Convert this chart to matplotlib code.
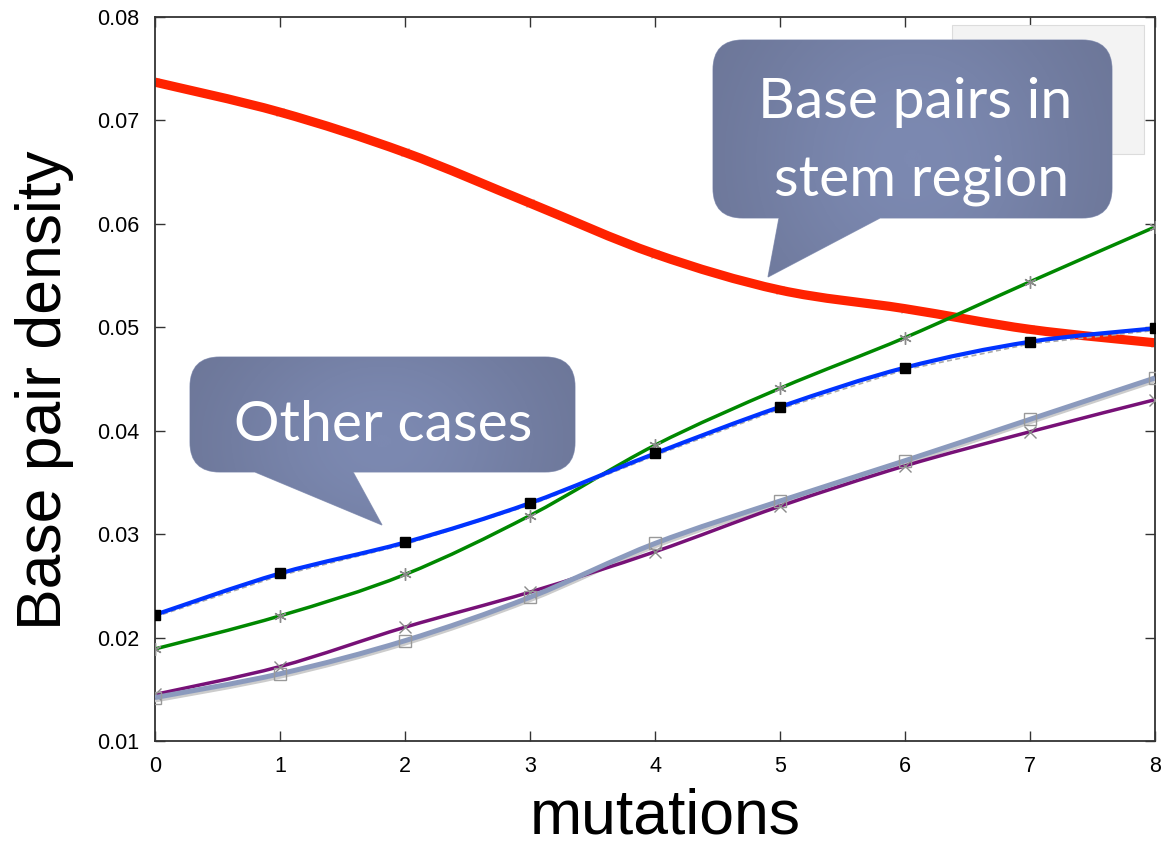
import matplotlib
matplotlib.use("Agg")
import matplotlib.pyplot as plt
import numpy as np
from matplotlib.colors import LinearSegmentedColormap
from matplotlib.patches import PathPatch, Rectangle
from matplotlib.path import Path
from matplotlib import transforms

# data
mutations = [0, 1, 2, 3, 4, 5, 6, 7, 8]
stem = [0.0737, 0.0708, 0.0669, 0.0620, 0.0571, 0.0536, 0.0518, 0.0498, 0.0485]
blue_case = [0.0222, 0.0262, 0.0292, 0.0330, 0.0378, 0.0423, 0.0461, 0.0486, 0.0499]
green_case = [0.0189, 0.0221, 0.0261, 0.0318, 0.0386, 0.0441, 0.0490, 0.0544, 0.0597]
purple_case = [0.0145, 0.0172, 0.0210, 0.0244, 0.0283, 0.0327, 0.0366, 0.0399, 0.0430]
grey_case = [0.0142, 0.0165, 0.0197, 0.0239, 0.0291, 0.0332, 0.0371, 0.0411, 0.0451]

yticks = [0.01, 0.02, 0.03, 0.04, 0.05, 0.06, 0.07, 0.08]

TICK_FONT = "Liberation Sans"
CALLOUT_FONT = "Lato"


def smooth_path(xs, ys):
    # Catmull-Rom through the points, handed to matplotlib as cubic Beziers
    n = len(xs)
    verts = [(xs[0], ys[0])]
    codes = [Path.MOVETO]
    for i in range(n - 1):
        a = max(i - 1, 0)
        b = min(i + 2, n - 1)
        c1 = (xs[i] + (xs[i + 1] - xs[a]) / 6, ys[i] + (ys[i + 1] - ys[a]) / 6)
        c2 = (xs[i + 1] - (xs[b] - xs[i]) / 6, ys[i + 1] - (ys[b] - ys[i]) / 6)
        verts += [c1, c2, (xs[i + 1], ys[i + 1])]
        codes += [Path.CURVE4] * 3
    return Path(verts, codes)


def curve(ax, ys, color, lw, z, transform=None, **kw):
    patch = PathPatch(smooth_path(mutations, ys), fill=False, edgecolor=color,
                      lw=lw, zorder=z, capstyle="butt", joinstyle="round",
                      transform=transform or ax.transData, **kw)
    ax.add_patch(patch)


def callout_path(x0, y0, x1, y1, r, tail):
    (b0, b1, tx, ty) = tail
    v = [(x0 + r, y0), (x1 - r, y0), (x1, y0), (x1, y0 + r), (x1, y1 - r),
         (x1, y1), (x1 - r, y1), (b1, y1), (tx, ty), (b0, y1), (x0 + r, y1),
         (x0, y1), (x0, y1 - r), (x0, y0 + r), (x0, y0), (x0 + r, y0), (x0 + r, y0)]
    c = [Path.MOVETO, Path.LINETO, Path.CURVE3, Path.CURVE3, Path.LINETO,
         Path.CURVE3, Path.CURVE3, Path.LINETO, Path.LINETO, Path.LINETO, Path.LINETO,
         Path.CURVE3, Path.CURVE3, Path.LINETO, Path.CURVE3, Path.CURVE3, Path.CLOSEPOLY]
    return Path(v, c)


def draw_callout(ov, box, tail, lines):
    x0, y0, x1, y1 = box
    path = callout_path(x0, y0, x1, y1, 30, tail)
    patch = PathPatch(path, facecolor="#7783a9", edgecolor="#9aa3c0", lw=0.8, zorder=5)
    ov.add_patch(patch)
    # soft shading: lighter in the middle, darker towards the sides
    u = np.linspace(-1, 1, 200)
    v = np.linspace(-1, 1, 100)
    uu, vv = np.meshgrid(u, v)
    shade = np.exp(-(uu / 0.9) ** 2 - (vv / 1.6) ** 2)
    cmap = LinearSegmentedColormap.from_list("callout", ["#6d7799", "#7c89b1"])
    ymax = max(y1, tail[3])
    im = ov.imshow(shade, cmap=cmap, extent=(x0, x1, ymax, y0), aspect="auto",
                   zorder=5.5, interpolation="bilinear")
    im.set_clip_path(patch)
    for (tx, ty, s) in lines:
        ov.text(tx, ty, s, color="white", fontsize=41, family=CALLOUT_FONT,
                ha="center", va="baseline", zorder=6)


fig = plt.figure(figsize=(11.63, 8.48), dpi=100)
ax = fig.add_axes([155 / 1163, 1 - 741 / 848, 1000 / 1163, 724 / 848])

# red stem curve, faint markers under it
ax.plot(mutations, stem, ls="none", marker="x", ms=6, mec="#bbbbbb", mew=1, zorder=1)
curve(ax, stem, "#ff2200", 6.6, 2)

# green with grey asterisks
curve(ax, green_case, "#008800", 2.5, 3)
ax.plot(mutations, green_case, ls="none", marker=(6, 2, 0), ms=9, mec="#8a8a8a",
        mew=1, zorder=3.5)

# blue with a dashed grey companion and black squares
ax.plot(mutations, blue_case, ls=(0, (3, 2)), lw=1.2, color="#aaaaaa", zorder=3.6,
        transform=transforms.offset_copy(ax.transData, fig=fig, y=-1.5, units="points"))
curve(ax, blue_case, "#0033ff", 3.0, 4)
ax.plot(mutations, blue_case, ls="none", marker="s", ms=7, color="black", zorder=4.5)

# grey-blue with light shadow, and purple
curve(ax, grey_case, "#cccccc", 2.2, 3.8,
      transform=transforms.offset_copy(ax.transData, fig=fig, y=-2.5, units="points"))
curve(ax, purple_case, "#771177", 2.5, 4.2)
ax.plot(mutations, purple_case, ls="none", marker="x", ms=8, mec="#8a8a8a", mew=1,
        zorder=4.3)
curve(ax, grey_case, "#8b9abd", 3.6, 4.4)
ax.plot(mutations, grey_case, ls="none", marker="s", ms=8, mfc="none", mec="#999999",
        mew=1, zorder=4.6)

ax.set_xlim(0, 8)
ax.set_ylim(0.01, 0.08)
ax.set_xticks(mutations)
ax.set_xticklabels([str(m) for m in mutations], fontsize=15.5, family=TICK_FONT)
ax.set_yticks(yticks)
ax.set_yticklabels([f"{t:.2f}" for t in yticks], fontsize=15.5, family=TICK_FONT)
ax.tick_params(direction="in", length=7, width=1, top=True, right=True,
               colors="#333333", labelcolor="black", pad=11)
for sp in ax.spines.values():
    sp.set_color("#333333")
    sp.set_linewidth(1.3)

fig.text(45 / 1163, 1 - 390 / 848, "Base pair density", rotation=90, fontsize=45,
         family=TICK_FONT, ha="center", va="center")
fig.text(665 / 1163, 1 - 833 / 848, "mutations", fontsize=45, family=TICK_FONT,
         ha="center", va="baseline")

# overlay in pixel coordinates for the callouts
ov = fig.add_axes([0, 0, 1, 1], zorder=10)
ov.set_xlim(0, 1163)
ov.set_ylim(848, 0)
ov.axis("off")
ov.patch.set_alpha(0)

ov.add_patch(Rectangle((952, 25), 192, 129, facecolor="#f3f3f3", edgecolor="#dcdcdc",
                       lw=0.8, zorder=1))

draw_callout(ov, (713, 40, 1112, 218), (779, 880, 768, 277),
             [(915, 118, "Base pairs in"), (922, 195, "stem region")])
draw_callout(ov, (190, 357, 575, 472), (255, 353, 382, 525),
             [(383, 441, "Other cases")])

ov.set_xlim(0, 1163)
ov.set_ylim(848, 0)

fig.savefig("out.png", dpi=100)
